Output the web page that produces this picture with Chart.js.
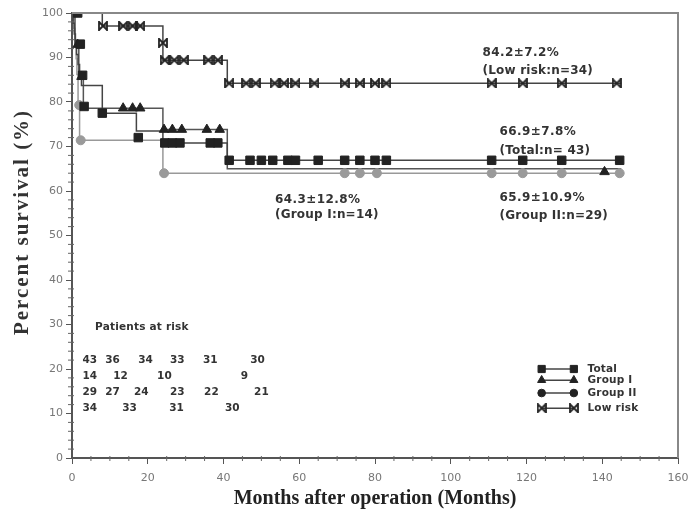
<!DOCTYPE html>
<html>
<head>
<meta charset="utf-8">
<script src="https://cdn.jsdelivr.net/npm/chart.js@4.4.1/dist/chart.umd.min.js"></script>
<style>
  html, body { margin: 0; background: #fff; }
  #wrap { width: 690px; height: 511px; }
</style>
</head>
<body>
<div id="wrap"><canvas id="km"></canvas></div>
<script>
/* Kaplan-Meier survival after operation */

// axis ticks
const xTicks = [0, 20, 40, 60, 80, 100, 120, 140, 160];
const yTicks = [0, 10, 20, 30, 40, 50, 60, 70, 80, 90, 100];

// step curves: time (months) where the curve takes the new value, survival (%)
const totalTimes = [0, 0.3, 0.6, 0.9, 1.2, 1.6, 2.0, 2.5, 8, 17, 24, 41, 145];
const totalSurv  = [100, 97.7, 95.3, 93.0, 90.7, 88.4, 86.0, 83.7, 77.5, 73.5, 70.8, 66.9, 66.9];

const groupITimes = [0, 0.8, 1.8, 3.0, 24, 41, 145];
const groupISurv  = [100, 92.9, 85.7, 78.6, 73.8, 65.0, 65.0];

const groupIITimes = [0, 0.5, 0.8, 1.1, 1.3, 1.6, 2.0, 24, 145];
const groupIISurv  = [100, 96.6, 93.1, 89.7, 86.2, 79.3, 71.4, 64.0, 64.0];

const lowRiskTimes = [0, 8, 24, 41, 145];
const lowRiskSurv  = [100, 97.1, 89.4, 84.2, 84.2];

// censoring marks (months, %)
const totalMarkT = [1.5, 2.2, 2.8, 3.2, 8, 17.5, 24.5, 26.5, 28.5, 36.5, 38.5,
  41.5, 47, 50, 53, 57, 59, 65, 72, 76, 80, 83, 110.8, 119, 129.3, 144.6];
const totalMarkS = [100, 93, 86, 79, 77.5, 72, 70.8, 70.8, 70.8, 70.8, 70.8,
  66.9, 66.9, 66.9, 66.9, 66.9, 66.9, 66.9, 66.9, 66.9, 66.9, 66.9, 66.9, 66.9, 66.9, 66.9];

const groupIMarkT = [1.5, 2.5, 13.5, 16, 18, 24.3, 26.5, 29, 35.6, 39, 140.6];
const groupIMarkS = [92.9, 85.7, 78.6, 78.6, 78.6, 73.8, 73.8, 73.8, 73.8, 73.8, 64.3];

const groupIIMarkT = [1.9, 2.3, 24.3, 72, 76, 80.5, 110.8, 119, 129.3, 144.6];
const groupIIMarkS = [79.3, 71.4, 64.0, 64.0, 64.0, 64.0, 64.0, 64.0, 64.0, 64.0];

const lowRiskMarkT = [8.2, 13.5, 16, 18, 24, 24.5, 27, 29.5, 36, 38.5,
  41.5, 46, 48.5, 53.5, 56, 59, 64, 72, 76, 80, 83, 110.8, 119, 129.3, 143.8];
const lowRiskMarkS = [97.1, 97.1, 97.1, 97.1, 93.3, 89.4, 89.4, 89.4, 89.4, 89.4,
  84.2, 84.2, 84.2, 84.2, 84.2, 84.2, 84.2, 84.2, 84.2, 84.2, 84.2, 84.2, 84.2, 84.2, 84.2];

// patients at risk (position in months, count)
const riskTotalAt   = [4.7, 10.7, 19.4, 27.8, 36.5, 49.0];
const riskTotal     = [43, 36, 34, 33, 31, 30];
const riskGroupIAt  = [4.7, 12.8, 24.4, 45.5];
const riskGroupI    = [14, 12, 10, 9];
const riskGroupIIAt = [4.7, 10.7, 18.3, 27.8, 36.8, 50.0];
const riskGroupII   = [29, 27, 24, 23, 22, 21];
const riskLowAt     = [4.7, 15.2, 27.6, 42.3];
const riskLow       = [34, 33, 31, 30];

// final estimates printed on the plot
const noteLines = [
  ['84.2\u00b17.2%', '(Low risk:n=34)'],
  ['66.9\u00b17.8%', '(Total:n= 43)'],
  ['64.3\u00b112.8%', '(Group I:n=14)'],
  ['65.9\u00b110.9%', '(Group II:n=29)']
];
const legendLabels = ['Total', 'Group I', 'Group II', 'Low risk'];

// ---------------------------------------------------------------

function pairs(xs, ys) {
  return xs.map((x, i) => ({ x: x, y: ys[i] }));
}

// "|X|" mark used for the low risk group
function makeLowRiskMark(size, color) {
  const c = document.createElement('canvas');
  c.width = size; c.height = size;
  const g = c.getContext('2d');
  g.strokeStyle = color;
  g.lineWidth = 1.8;
  g.beginPath();
  g.moveTo(1.5, 1.5); g.lineTo(size - 1.5, size - 1.5);
  g.moveTo(size - 1.5, 1.5); g.lineTo(1.5, size - 1.5);
  g.moveTo(1, 0); g.lineTo(1, size);
  g.moveTo(size - 1, 0); g.lineTo(size - 1, size);
  g.stroke();
  return c;
}
const lowRiskMark = makeLowRiskMark(10, '#222');

const styles = {
  total:   { color: '#222', line: '#444', pointStyle: 'rect', radius: 6 },
  groupI:  { color: '#222', line: '#555', pointStyle: 'triangle', radius: 5.5 },
  groupII: { color: '#9a9a9a', line: '#999', pointStyle: 'circle', radius: 4.5 },
  lowRisk: { color: '#222', line: '#444', pointStyle: lowRiskMark, radius: 5 }
};

function stepSet(times, surv, st) {
  return {
    data: pairs(times, surv), stepped: true, borderColor: st.line, borderWidth: 1.5,
    pointRadius: 0, fill: false, order: 3
  };
}
function markSet(times, surv, st, order) {
  return {
    data: pairs(times, surv), showLine: false, pointStyle: st.pointStyle,
    pointRadius: st.radius, backgroundColor: st.color, borderColor: st.color,
    borderWidth: 1, order: order
  };
}

function text(ctx, str, x, y, font, color, spacing) {
  ctx.save();
  ctx.font = font;
  ctx.fillStyle = color;
  ctx.textAlign = 'left';
  ctx.textBaseline = 'middle';
  ctx.letterSpacing = (spacing || 0) + 'px';
  ctx.fillText(str, x, y);
  ctx.restore();
}

const extras = {
  id: 'kmExtras',
  afterDraw(chart) {
    const { ctx, chartArea: a, scales: { x, y } } = chart;
    const px = v => x.getPixelForValue(v);
    const py = v => y.getPixelForValue(v);

    // frame on top and right
    ctx.save();
    ctx.strokeStyle = '#888';
    ctx.lineWidth = 2;
    ctx.beginPath();
    ctx.moveTo(a.left, a.top); ctx.lineTo(a.right, a.top); ctx.lineTo(a.right, a.bottom);
    ctx.stroke();

    // minor ticks
    ctx.strokeStyle = '#666';
    ctx.lineWidth = 1;
    ctx.beginPath();
    for (let v = 5; v < 160; v += 5) {
      if (v % 20 === 0) continue;
      ctx.moveTo(px(v), a.bottom - 2); ctx.lineTo(px(v), a.bottom + 3);
    }
    for (let v = 2; v < 100; v += 2) {
      if (v % 10 === 0) continue;
      ctx.moveTo(a.left - 4, py(v)); ctx.lineTo(a.left + 2, py(v));
    }
    ctx.stroke();
    ctx.restore();

    // y title, a little spaced out like the original
    ctx.save();
    ctx.translate(23, 222);
    ctx.rotate(-Math.PI / 2);
    ctx.font = 'bold 21px "Liberation Serif"';
    ctx.fillStyle = '#333';
    ctx.textAlign = 'center';
    ctx.textBaseline = 'middle';
    ctx.letterSpacing = '2px';
    ctx.fillText('Percent survival (%)', 0, 0);
    ctx.restore();

    // notes with final estimates
    const noteFont = 'bold 12px "DejaVu Sans"';
    const notePos = [[108.4, 91.0, 87.0], [112.9, 73.3, 69.0], [53.6, 58.0, 54.6], [112.9, 58.4, 54.4]];
    noteLines.forEach((ln, i) => {
      const [t, s1, s2] = notePos[i];
      text(ctx, ln[0], px(t), py(s1), noteFont, '#333', 0.4);
      text(ctx, ln[1], px(t), py(s2), noteFont, '#333', 0.2);
    });

    // patients at risk
    const riskFont = 'bold 10.5px "DejaVu Sans"';
    text(ctx, 'Patients at risk', px(6.1), py(29.4), riskFont, '#333', 0.2);
    const rows = [[riskTotalAt, riskTotal], [riskGroupIAt, riskGroupI],
                  [riskGroupIIAt, riskGroupII], [riskLowAt, riskLow]];
    const rowY = [22.0, 18.4, 14.8, 11.2];
    ctx.save();
    ctx.font = riskFont;
    ctx.fillStyle = '#333';
    ctx.textAlign = 'center';
    ctx.textBaseline = 'middle';
    rows.forEach((r, i) => {
      r[0].forEach((t, j) => ctx.fillText(String(r[1][j]), px(t), py(rowY[i])));
    });
    ctx.restore();

    // legend: mark - line - mark, label
    const legRow = [20.0, 17.5, 14.6, 11.2];
    const legStyles = [styles.total, styles.groupI, styles.groupII, styles.lowRisk];
    const lx1 = px(124.0), lx2 = px(132.5), ltx = px(136.1);
    legStyles.forEach((st, i) => {
      const yy = py(legRow[i]);
      ctx.save();
      ctx.strokeStyle = '#444';
      ctx.lineWidth = 1.5;
      ctx.beginPath(); ctx.moveTo(lx1, yy); ctx.lineTo(lx2, yy); ctx.stroke();
      // the legend prints all marks in black
      ctx.fillStyle = '#222';
      ctx.strokeStyle = '#222';
      ctx.lineWidth = 1;
      [lx1, lx2].forEach(mx => Chart.helpers.drawPoint(ctx,
        { pointStyle: st.pointStyle, radius: st.radius * 0.85, rotation: 0, borderWidth: 1 }, mx, yy));
      ctx.restore();
      text(ctx, legendLabels[i], ltx, yy, 'bold 10.5px "DejaVu Sans"', '#333', 0.2);
    });
  }
};

const tickFont = { family: '"DejaVu Sans"', size: 11 };

new Chart(document.getElementById('km'), {
  type: 'line',
  data: {
    datasets: [
      markSet(totalMarkT, totalMarkS, styles.total, 0),
      markSet(groupIMarkT, groupIMarkS, styles.groupI, 0),
      markSet(lowRiskMarkT, lowRiskMarkS, styles.lowRisk, 0),
      markSet(groupIIMarkT, groupIIMarkS, styles.groupII, 1),
      stepSet(totalTimes, totalSurv, styles.total),
      stepSet(groupITimes, groupISurv, styles.groupI),
      stepSet(groupIITimes, groupIISurv, styles.groupII),
      stepSet(lowRiskTimes, lowRiskSurv, styles.lowRisk)
    ]
  },
  options: {
    responsive: true,
    maintainAspectRatio: false,
    animation: false,
    events: [],
    layout: { padding: { top: 13, right: 12, left: 0, bottom: 0 } },
    plugins: { legend: { display: false }, tooltip: { enabled: false } },
    scales: {
      x: {
        type: 'linear', min: 0, max: 160,
        afterBuildTicks: s => { s.ticks = xTicks.map(v => ({ value: v })); },
        afterFit: s => { s.height = 53; s.paddingLeft = 0; s.paddingRight = 0; },
        border: { color: '#555', width: 2 },
        grid: { drawOnChartArea: false, drawTicks: true, tickLength: 6, color: '#555' },
        ticks: { font: tickFont, color: '#777', padding: 8, maxRotation: 0 },
        title: {
          display: true, text: 'Months after operation (Months)', color: '#222',
          font: { family: '"Liberation Serif"', size: 20, weight: 'bold' },
          padding: { top: 0, bottom: 0 }
        }
      },
      y: {
        type: 'linear', min: 0, max: 100,
        afterBuildTicks: s => { s.ticks = yTicks.map(v => ({ value: v })); },
        afterFit: s => { s.width = 72; },
        border: { color: '#555', width: 2 },
        grid: { drawOnChartArea: false, drawTicks: true, tickLength: 6, color: '#555' },
        ticks: { font: tickFont, color: '#777', padding: 3 }
      }
    }
  },
  plugins: [extras]
});
</script>
</body>
</html>
